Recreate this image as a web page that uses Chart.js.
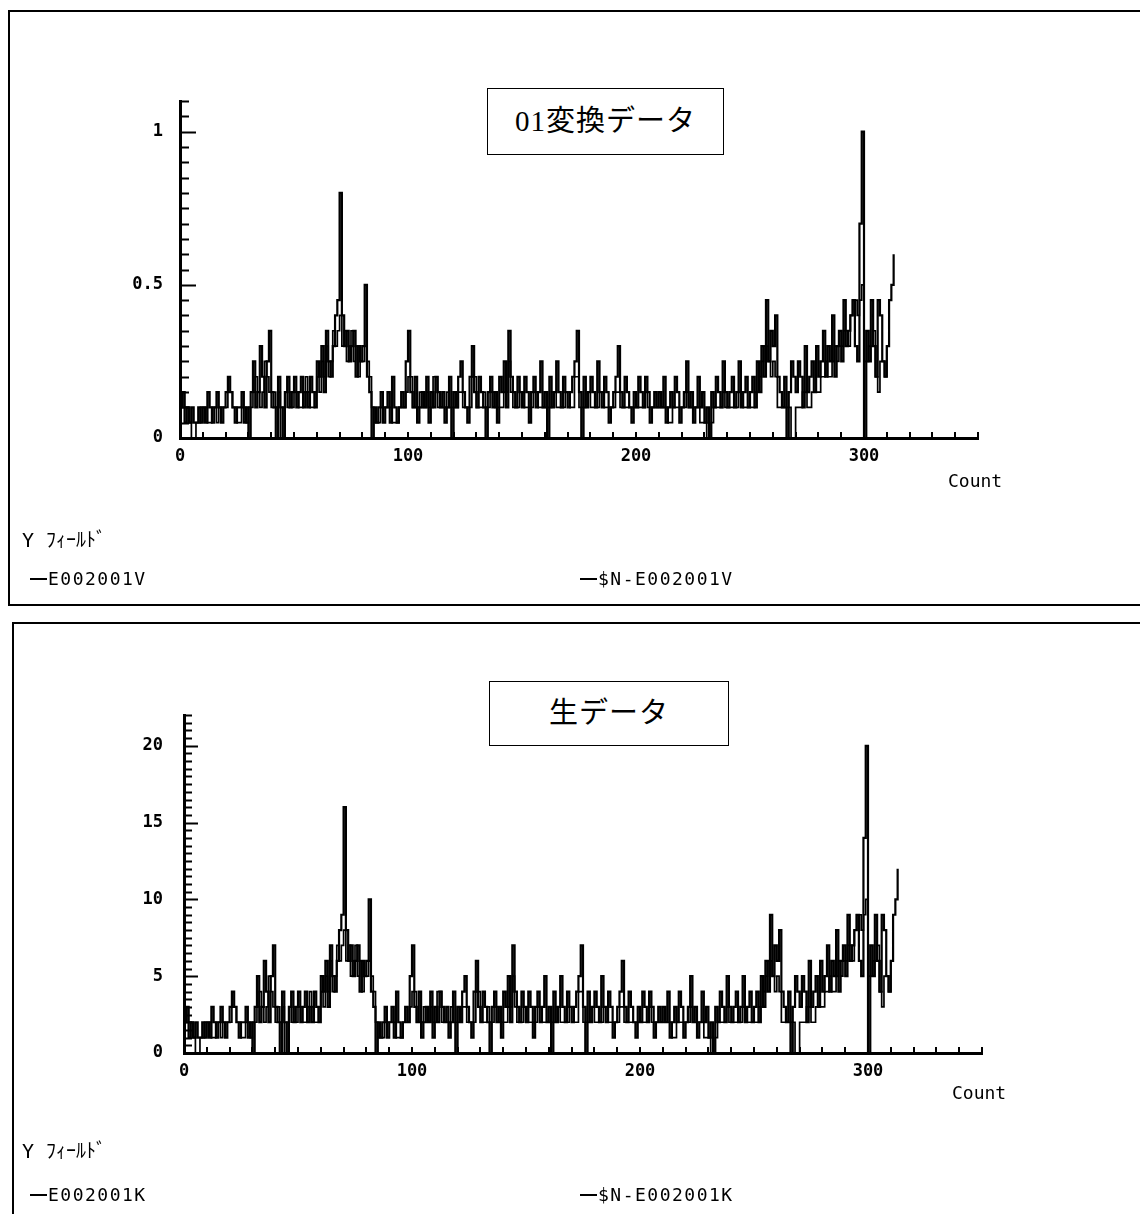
<!DOCTYPE html>
<html lang="ja">
<head>
<meta charset="utf-8">
<title>01変換データ / 生データ</title>
<script src="https://cdn.jsdelivr.net/npm/chart.js@4.4.1/dist/chart.umd.min.js"></script>
<style>
  html, body { margin: 0; padding: 0; background: #fff; }
  body {
    width: 1140px; height: 1214px; position: relative; overflow: hidden;
    font-family: "DejaVu Sans Mono", "Noto Sans CJK JP", monospace; color: #000;
  }
  .panel { position: absolute; border: 2px solid #000; box-sizing: border-box; }
  #panel-top { left: 8px; top: 10px; width: 1200px; height: 596px; }
  #panel-bottom { left: 12px; top: 622px; width: 1200px; height: 700px; }
  canvas { position: absolute; left: 0; }
  #chart-top { top: 0; }
  #chart-bottom { top: 610px; }
  .title-box {
    position: absolute; box-sizing: border-box; border: 1.5px solid #000; background: #fff;
    text-align: center; font-family: "Liberation Serif", "Noto Sans CJK JP", serif;
    font-size: 29px; letter-spacing: 1px; z-index: 2;
  }
  .axis-name, .field, .legend-item { position: absolute; line-height: 20px; z-index: 2; white-space: nowrap; }
  .axis-name { font-size: 18px; }
  .field { font-size: 20px; }
  .legend-item { font-size: 18px; letter-spacing: 1.5px; display: flex; align-items: center; }
  .legend-item .dash { display: inline-block; width: 17px; height: 2px; background: #000; margin-right: 1px; }
</style>
</head>
<body>
<div class="panel" id="panel-top"></div>
<div class="panel" id="panel-bottom"></div>

<canvas id="chart-top" width="1140" height="610"></canvas>
<canvas id="chart-bottom" width="1140" height="604"></canvas>

<div class="title-box" style="left:487px;top:88px;width:237px;height:67px;line-height:64px;">01変換データ</div>
<div class="axis-name" style="left:948px;top:471px;">Count</div>
<div class="field" style="left:22px;top:530px;">Y ﾌｨｰﾙﾄﾞ</div>
<div class="legend-item" style="left:30px;top:569px;"><span class="dash"></span>E002001V</div>
<div class="legend-item" style="left:580px;top:569px;"><span class="dash"></span>$N-E002001V</div>

<div class="title-box" style="left:489px;top:681px;width:240px;height:65px;line-height:62px;">生データ</div>
<div class="axis-name" style="left:952px;top:1083px;">Count</div>
<div class="field" style="left:22px;top:1141px;">Y ﾌｨｰﾙﾄﾞ</div>
<div class="legend-item" style="left:30px;top:1185px;"><span class="dash"></span>E002001K</div>
<div class="legend-item" style="left:580px;top:1185px;"><span class="dash"></span>$N-E002001K</div>

<script>
// --- Data (one value per Count, starting at 0) ---

// 生データ: E002001K
const rawK = [
  2, 3, 1, 2, 1, 2, 1, 1, 2, 1,
  2, 1, 3, 2, 1, 2, 3, 2, 1, 2,
  3, 4, 3, 2, 1, 2, 2, 3, 1, 2,
  0, 3, 5, 2, 3, 6, 4, 2, 5, 7,
  3, 2, 0, 4, 2, 0, 3, 4, 2, 3,
  4, 2, 3, 4, 2, 3, 2, 4, 3, 2,
  5, 4, 6, 3, 7, 5, 4, 6, 8, 9,
  16, 8, 6, 7, 5, 6, 7, 4, 6, 5,
  6, 10, 4, 3, 0, 2, 1, 2, 3, 1,
  2, 3, 1, 4, 2, 1, 2, 3, 2, 5,
  7, 3, 2, 4, 1, 2, 3, 2, 4, 1,
  3, 2, 4, 3, 2, 3, 1, 2, 4, 0,
  3, 2, 4, 5, 3, 2, 1, 4, 6, 3,
  2, 4, 3, 2, 0, 3, 4, 2, 3, 1,
  4, 3, 5, 2, 7, 4, 3, 2, 4, 3,
  2, 4, 3, 1, 3, 4, 2, 3, 5, 2,
  3, 0, 4, 2, 3, 5, 3, 2, 4, 3,
  2, 3, 4, 5, 7, 3, 0, 4, 2, 3,
  4, 3, 2, 5, 3, 2, 4, 3, 1, 2,
  3, 4, 6, 3, 2, 4, 3, 2, 1, 3,
  2, 4, 3, 2, 4, 3, 1, 2, 3, 2,
  3, 2, 4, 1, 2, 3, 2, 4, 3, 1,
  2, 3, 5, 2, 3, 1, 2, 4, 2, 3,
  1, 2, 0, 3, 2, 4, 3, 2, 5, 3,
  2, 3, 4, 2, 3, 5, 2, 3, 4, 2,
  3, 4, 2, 5, 3, 6, 4, 9, 5, 7,
  6, 8, 4, 3, 2, 4, 0, 3, 5, 4,
  3, 5, 4, 2, 6, 3, 4, 5, 3, 6,
  4, 5, 7, 4, 6, 5, 8, 4, 6, 7,
  5, 9, 6, 7, 8, 9, 6, 5, 14, 20,
  0, 7, 5, 9, 6, 4, 9, 8, 5, 4,
  6, 9, 10, 12,
];

// 生データ: $N-E002001K
const rawNK = [
  3, 3, 2, 2, 1, 0, 0, 1, 1, 2,
  2, 2, 1, 1, 2, 2, 1, 2, 2, 2,
  2, 3, 3, 2, 2, 1, 1, 2, 2, 1,
  2, 2, 3, 4, 3, 2, 3, 5, 4, 3,
  2, 3, 2, 3, 0, 2, 3, 2, 3, 2,
  3, 3, 2, 2, 3, 4, 3, 2, 2, 3,
  4, 3, 5, 4, 6, 4, 5, 7, 6, 7,
  8, 6, 7, 5, 6, 7, 5, 6, 4, 5,
  5, 6, 5, 4, 2, 1, 1, 1, 2, 2,
  2, 2, 2, 1, 1, 1, 2, 2, 2, 3,
  4, 4, 2, 2, 2, 3, 2, 2, 3, 2,
  2, 4, 4, 2, 2, 2, 2, 3, 2, 2,
  2, 2, 3, 3, 2, 2, 2, 2, 4, 4,
  2, 2, 2, 3, 2, 2, 3, 3, 2, 2,
  2, 2, 3, 3, 5, 3, 2, 2, 2, 3,
  3, 2, 2, 2, 2, 3, 3, 2, 2, 2,
  2, 2, 2, 3, 3, 2, 2, 2, 2, 3,
  3, 2, 2, 4, 4, 2, 2, 2, 3, 3,
  2, 2, 2, 2, 3, 3, 2, 2, 2, 2,
  2, 3, 3, 2, 2, 2, 2, 2, 2, 2,
  2, 2, 2, 2, 3, 2, 2, 2, 2, 2,
  2, 2, 2, 2, 1, 1, 2, 2, 2, 2,
  2, 2, 3, 2, 2, 2, 2, 2, 1, 1,
  1, 0, 0, 1, 2, 2, 2, 2, 3, 2,
  2, 2, 2, 2, 2, 3, 3, 2, 2, 2,
  2, 2, 3, 3, 4, 5, 6, 6, 5, 4,
  5, 4, 2, 2, 2, 2, 2, 2, 0, 0,
  2, 2, 2, 3, 3, 2, 2, 3, 3, 3,
  3, 4, 4, 5, 4, 4, 5, 6, 5, 6,
  6, 7, 7, 6, 8, 9, 9, 8, 9, 10,
  5, 5, 6, 6, 7, 4, 3, 5, 5, 4,
  6,
];

// 01変換データ: E002001V
const convV = [
  .1, .15, .05, .1, .05, .1, .05, .05, .1, .05,
  .1, .05, .15, .1, .05, .1, .15, .1, .05, .1,
  .15, .2, .15, .1, .05, .1, .1, .15, .05, .1,
  0, .15, .25, .1, .15, .3, .2, .1, .25, .35,
  .15, .1, 0, .2, .1, 0, .15, .2, .1, .15,
  .2, .1, .15, .2, .1, .15, .1, .2, .15, .1,
  .25, .2, .3, .15, .35, .25, .2, .3, .4, .45,
  .8, .4, .3, .35, .25, .3, .35, .2, .3, .25,
  .3, .5, .2, .15, 0, .1, .05, .1, .15, .05,
  .1, .15, .05, .2, .1, .05, .1, .15, .1, .25,
  .35, .15, .1, .2, .05, .1, .15, .1, .2, .05,
  .15, .1, .2, .15, .1, .15, .05, .1, .2, 0,
  .15, .1, .2, .25, .15, .1, .05, .2, .3, .15,
  .1, .2, .15, .1, 0, .15, .2, .1, .15, .05,
  .2, .15, .25, .1, .35, .2, .15, .1, .2, .15,
  .1, .2, .15, .05, .15, .2, .1, .15, .25, .1,
  .15, 0, .2, .1, .15, .25, .15, .1, .2, .15,
  .1, .15, .2, .25, .35, .15, 0, .2, .1, .15,
  .2, .15, .1, .25, .15, .1, .2, .15, .05, .1,
  .15, .2, .3, .15, .1, .2, .15, .1, .05, .15,
  .1, .2, .15, .1, .2, .15, .05, .1, .15, .1,
  .15, .1, .2, .05, .1, .15, .1, .2, .15, .05,
  .1, .15, .25, .1, .15, .05, .1, .2, .1, .15,
  .05, .1, 0, .15, .1, .2, .15, .1, .25, .15,
  .1, .15, .2, .1, .15, .25, .1, .15, .2, .1,
  .15, .2, .1, .25, .15, .3, .2, .45, .25, .35,
  .3, .4, .2, .15, .1, .2, 0, .15, .25, .2,
  .15, .25, .2, .1, .3, .15, .2, .25, .15, .3,
  .2, .25, .35, .2, .3, .25, .4, .2, .3, .35,
  .25, .45, .3, .35, .4, .45, .3, .25, .7, 1,
  0, .35, .25, .45, .3, .2, .45, .4, .25, .2,
  .3, .45, .5, .6,
];

// 01変換データ: $N-E002001V
const convNV = [
  .15, .15, .1, .1, .05, 0, 0, .05, .05, .1,
  .1, .1, .05, .05, .1, .1, .05, .1, .1, .1,
  .1, .15, .15, .1, .1, .05, .05, .1, .1, .05,
  .1, .1, .15, .2, .15, .1, .15, .25, .2, .15,
  .1, .15, .1, .15, 0, .1, .15, .1, .15, .1,
  .15, .15, .1, .1, .15, .2, .15, .1, .1, .15,
  .2, .15, .25, .2, .3, .2, .25, .35, .3, .35,
  .4, .3, .35, .25, .3, .35, .25, .3, .2, .25,
  .25, .3, .25, .2, .1, .05, .05, .05, .1, .1,
  .1, .1, .1, .05, .05, .05, .1, .1, .1, .15,
  .2, .2, .1, .1, .1, .15, .1, .1, .15, .1,
  .1, .2, .2, .1, .1, .1, .1, .15, .1, .1,
  .1, .1, .15, .15, .1, .1, .1, .1, .2, .2,
  .1, .1, .1, .15, .1, .1, .15, .15, .1, .1,
  .1, .1, .15, .15, .25, .15, .1, .1, .1, .15,
  .15, .1, .1, .1, .1, .15, .15, .1, .1, .1,
  .1, .1, .1, .15, .15, .1, .1, .1, .1, .15,
  .15, .1, .1, .2, .2, .1, .1, .1, .15, .15,
  .1, .1, .1, .1, .15, .15, .1, .1, .1, .1,
  .1, .15, .15, .1, .1, .1, .1, .1, .1, .1,
  .1, .1, .1, .1, .15, .1, .1, .1, .1, .1,
  .1, .1, .1, .1, .05, .05, .1, .1, .1, .1,
  .1, .1, .15, .1, .1, .1, .1, .1, .05, .05,
  .05, 0, 0, .05, .1, .1, .1, .1, .15, .1,
  .1, .1, .1, .1, .1, .15, .15, .1, .1, .1,
  .1, .1, .15, .15, .2, .25, .3, .3, .25, .2,
  .25, .2, .1, .1, .1, .1, .1, .1, 0, 0,
  .1, .1, .1, .15, .15, .1, .1, .15, .15, .15,
  .15, .2, .2, .25, .2, .2, .25, .3, .25, .3,
  .3, .35, .35, .3, .4, .45, .45, .4, .45, .5,
  .25, .25, .3, .3, .35, .2, .15, .25, .25, .2,
  .3,
];

// --- Axis labels ---
const xTickLabels = [0, 100, 200, 300];
const topYLabels = [0, 0.5, 1];
const bottomYLabels = [0, 5, 10, 15, 20];

const tickFont = { family: "'DejaVu Sans Mono', monospace", size: 17, weight: 'bold' };

// --- Helpers ---

function buildPoints(values) {
  return values.map((v, i) => ({ x: i, y: v }));
}

function isIn(list, value) {
  return list.some(l => Math.abs(l - value) < 1e-6);
}

// tick marks drawn inward from the axes, like the original plot
const innerTicks = {
  id: 'innerTicks',
  afterDatasetsDraw(chart, args, opts) {
    const { ctx, chartArea, scales: { x, y } } = chart;
    ctx.save();
    ctx.strokeStyle = '#000';
    ctx.lineWidth = 2;
    ctx.beginPath();
    x.ticks.forEach(t => {
      const px = Math.round(x.getPixelForValue(t.value));
      ctx.moveTo(px, chartArea.bottom);
      ctx.lineTo(px, chartArea.bottom - opts.xLen);
    });
    y.ticks.forEach(t => {
      const py = Math.round(y.getPixelForValue(t.value)) + 0.5;
      const r = t.value / opts.yMajor;
      const len = Math.abs(r - Math.round(r)) < 1e-6 ? opts.yLong : opts.yShort;
      ctx.moveTo(chartArea.left, py);
      ctx.lineTo(chartArea.left + len, py);
    });
    ctx.stroke();
    ctx.restore();
  },
};

function makeChart(canvasId, cfg) {
  const ctx = document.getElementById(canvasId).getContext('2d');
  return new Chart(ctx, {
    type: 'line',
    data: {
      datasets: [
        {
          label: cfg.names[0],
          data: buildPoints(cfg.seriesA),
          borderColor: '#000',
          borderWidth: 2.2,
          stepped: true,
          pointRadius: 0,
          fill: false,
        },
        {
          label: cfg.names[1],
          data: buildPoints(cfg.seriesB),
          borderColor: '#000',
          borderWidth: 1.7,
          stepped: true,
          pointRadius: 0,
          fill: false,
        },
      ],
    },
    options: {
      responsive: false,
      animation: false,
      events: [],
      layout: { padding: { left: 0, top: cfg.top, right: cfg.right, bottom: 0 } },
      plugins: {
        legend: { display: false },
        tooltip: { enabled: false },
        innerTicks: { xLen: 6, yMajor: cfg.yMajor, yLong: cfg.yLong, yShort: cfg.yShort },
      },
      scales: {
        x: {
          type: 'linear',
          min: 0,
          max: 350,
          afterFit: s => { s.height = cfg.xHeight; },
          grid: { drawOnChartArea: false, drawTicks: false },
          border: { color: '#000', width: 3 },
          ticks: {
            stepSize: 10,
            autoSkip: false,
            maxRotation: 0,
            padding: 8,
            color: '#000',
            font: tickFont,
            callback: v => (isIn(xTickLabels, v) ? String(v) : ''),
          },
        },
        y: {
          type: 'linear',
          min: 0,
          max: cfg.yMax,
          afterFit: s => { s.width = cfg.yWidth; },
          grid: { drawOnChartArea: false, drawTicks: false },
          border: { color: '#000', width: 3 },
          ticks: {
            stepSize: cfg.yStep,
            autoSkip: false,
            padding: cfg.yPad,
            color: '#000',
            font: tickFont,
            callback: v => (isIn(cfg.yLabels, v) ? String(v) : ''),
          },
        },
      },
    },
    plugins: [innerTicks],
  });
}

// --- Init ---
makeChart('chart-top', {
  names: ['E002001V', '$N-E002001V'],
  seriesA: convV,
  seriesB: convNV,
  yMax: 1.1,
  yStep: 0.05,
  yMajor: 0.5,
  yLabels: topYLabels,
  yLong: 16,
  yShort: 9,
  yWidth: 180,
  yPad: 17,
  xHeight: 172,
  top: 101,
  right: 162,
});

makeChart('chart-bottom', {
  names: ['E002001K', '$N-E002001K'],
  seriesA: rawK,
  seriesB: rawNK,
  yMax: 22,
  yStep: 0.5,
  yMajor: 5,
  yLabels: bottomYLabels,
  yLong: 14,
  yShort: 8,
  yWidth: 184,
  yPad: 21,
  xHeight: 161,
  top: 105,
  right: 158,
});
</script>
</body>
</html>
